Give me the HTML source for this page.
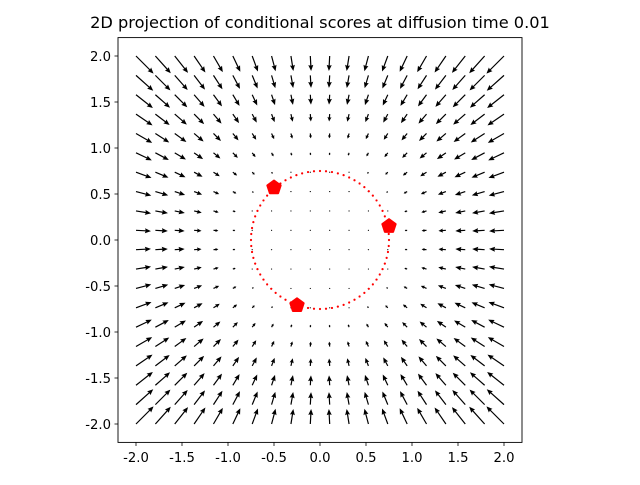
<!DOCTYPE html>
<html><head><meta charset="utf-8"><style>
body{margin:0;background:#fff;width:640px;height:480px;overflow:hidden}
text{font-family:"DejaVu Sans","Liberation Sans",sans-serif}
</style></head><body>
<svg id="chart" width="640" height="480" viewBox="0 0 640 480">
<rect width="640" height="480" fill="#fff"/>
<text x="320" y="28" font-size="16.2" text-anchor="middle">2D projection of conditional scores at diffusion time 0.01</text>
<g id="field"></g>
<g id="circ"></g>
<g id="marks"></g>
<rect x="118" y="37.6" width="404" height="404.8" fill="none" stroke="#000" stroke-width="0.9"/>
<g id="ticks"></g>
</svg>
<script>
const xTicks=[-2.0,-1.5,-1.0,-0.5,0.0,0.5,1.0,1.5,2.0];
const yTicks=[-2.0,-1.5,-1.0,-0.5,0.0,0.5,1.0,1.5,2.0];
const gridN=20, gridMin=-2, gridMax=2;
const ringRadius=0.75;
const pointsX=[-0.5,0.75,-0.25];
const pointsY=[0.57,0.15,-0.71];
const fieldGain=0.13;
const NS="http://www.w3.org/2000/svg";
const X=v=>320+v*92, Y=v=>240-v*92;
function mk(t,a,p){const e=document.createElementNS(NS,t);for(const k in a)e.setAttribute(k,a[k]);p.appendChild(e);return e;}
const field=document.getElementById('field');
for(let i=0;i<gridN;i++)for(let j=0;j<gridN;j++){
  const x=gridMin+(gridMax-gridMin)*i/(gridN-1), y=gridMin+(gridMax-gridMin)*j/(gridN-1);
  const r=Math.hypot(x,y); const m=Math.max(r-ringRadius,0.02)*fieldGain;
  const u=-x/r*m, v=-y/r*m;
  const x0=X(x),y0=Y(y),dx=X(x+u)-x0,dy=Y(y+v)-y0;
  const L=Math.hypot(dx,dy), w=1.2;
  let el;
  if(L<w*1.5){el=mk('circle',{cx:x0,cy:y0,r:0.6,fill:'#000'},field);}
  else{
    const ux=dx/L,uy=dy/L,nx=-uy,ny=ux;
    const hl=Math.min(5*w,L*0.6), ha=hl*0.9, hw=1.6*w*Math.min(1,hl/(5*w));
    const sw=w/2;
    const p=[[0,sw],[L-ha,sw],[L-hl,hw+sw],[L,0],[L-hl,-hw-sw],[L-ha,-sw],[0,-sw]]
      .map(([a,b])=>(x0+ux*a+nx*b).toFixed(2)+','+(y0+uy*a+ny*b).toFixed(2)).join(' ');
    el=mk('polygon',{points:p,fill:'#000'},field);
  }
  
  
}
const circ=document.getElementById('circ');
const nd=72;
for(let k=0;k<nd;k++){const t=2*Math.PI*k/nd;
  const d=mk('circle',{cx:X(ringRadius*Math.cos(t)),cy:Y(ringRadius*Math.sin(t)),r:1.1,fill:'#f00'},circ);
  
  
}
const marks=document.getElementById('marks');
for(let k=0;k<pointsX.length;k++){
  const cx=X(pointsX[k]),cy=Y(pointsY[k]);let pts=[];
  for(let q=0;q<5;q++){const a=-Math.PI/2+q*2*Math.PI/5;pts.push((cx+7*Math.cos(a)).toFixed(2)+','+(cy+7*Math.sin(a)).toFixed(2));}
  const pm=mk('polygon',{points:pts.join(' '),fill:'#f00',stroke:'#f00','stroke-width':2,'stroke-linejoin':'round'},marks);
  
  
}
const ticks=document.getElementById('ticks');
xTicks.forEach(v=>{
  const l=mk('line',{x1:X(v),x2:X(v),y1:442.4,y2:446,stroke:'#000','stroke-width':0.8},ticks);
  
  const t=mk('text',{x:X(v),y:462,'font-size':13.2,'text-anchor':'middle'},ticks);t.textContent=v.toFixed(1);
  
});
yTicks.forEach(v=>{
  const l=mk('line',{x1:114.5,x2:118,y1:Y(v),y2:Y(v),stroke:'#000','stroke-width':0.8},ticks);
  
  const t=mk('text',{x:111,y:Y(v)+5,'font-size':13.2,'text-anchor':'end'},ticks);t.textContent=v.toFixed(1);
  
});
</script>
</body></html>
